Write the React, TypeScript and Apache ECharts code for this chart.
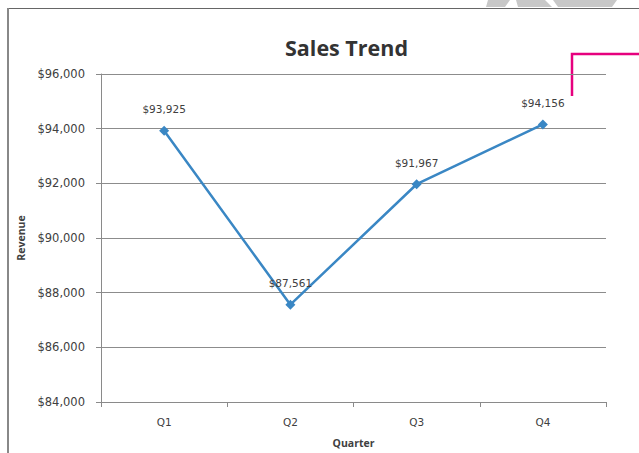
import React, { useEffect, useRef } from "react";
import * as echarts from "echarts";

const categories = ["Q1", "Q2", "Q3", "Q4"];
const revenue = [93925, 87561, 91967, 94156];
const yMin = 84000;
const yMax = 96000;
const yStep = 2000;

const fmt = (v: number) => "$" + v.toLocaleString("en-US");

export default function App() {
  const ref = useRef<HTMLDivElement>(null);
  useEffect(() => {
    document.body.style.margin = "0";
    const chart = echarts.init(ref.current!, null, { renderer: "svg" });
    chart.setOption({
      animation: false,
      backgroundColor: "#ffffff",
      grid: { left: 101, right: 33, top: 74, bottom: 48, containLabel: false },
      xAxis: {
        type: "category",
        data: categories,
        boundaryGap: true,
        name: "Quarter",
        nameLocation: "middle",
        nameGap: 35,
        nameTextStyle: { fontFamily: "Open Sans", fontWeight: "bold", fontSize: 10.5, color: "#404040" },
        axisLine: { show: true, lineStyle: { color: "#8a8a8a", width: 1 } },
        axisTick: { show: true, length: 5, lineStyle: { color: "#8a8a8a" } },
        axisLabel: { fontFamily: "DejaVu Sans", fontSize: 10.5, color: "#404040", margin: 14 },
      },
      yAxis: {
        type: "value",
        min: yMin,
        max: yMax,
        interval: yStep,
        name: "Revenue",
        nameLocation: "middle",
        nameRotate: 90,
        nameGap: 74,
        nameTextStyle: { fontFamily: "Open Sans", fontWeight: "bold", fontSize: 10.5, color: "#404040" },
        axisLine: { show: true, lineStyle: { color: "#8a8a8a", width: 1 } },
        axisTick: { show: true, length: 5, lineStyle: { color: "#8a8a8a" } },
        axisLabel: { fontFamily: "DejaVu Sans", fontSize: 11.5, color: "#404040", margin: 16, formatter: (v: number) => fmt(v) },
        splitLine: { show: true, lineStyle: { color: "#8c8c8c", width: 1 } },
      },
      series: [
        {
          type: "line",
          data: revenue,
          symbol: "diamond",
          symbolSize: 10,
          itemStyle: { color: "#3a87c4" },
          lineStyle: { color: "#3a87c4", width: 2.5 },
          label: {
            show: true,
            position: "top",
            distance: 11,
            fontFamily: "DejaVu Sans",
            fontSize: 10.5,
            color: "#404040",
            formatter: (p: any) => fmt(p.value),
          },
        },
      ],
      graphic: [
        {
          type: "text",
          left: 285,
          top: 36,
          style: { text: "Sales Trend", fontFamily: "Open Sans", fontWeight: "bold", fontSize: 21.5, fill: "#333333" },
        },
        { type: "line", shape: { x1: 8, y1: 8.5, x2: 639, y2: 8.5 }, style: { stroke: "#666666", lineWidth: 1.2 } },
        { type: "line", shape: { x1: 8, y1: 8, x2: 8, y2: 453 }, style: { stroke: "#888888", lineWidth: 2 } },
        { type: "polygon", shape: { points: [[488, 0], [510, 0], [505, 7], [486, 7]] }, style: { fill: "#c8c8c8" } },
        { type: "polygon", shape: { points: [[516, 0], [545, 0], [552, 7], [518, 7]] }, style: { fill: "#c8c8c8" } },
        { type: "polygon", shape: { points: [[553, 0], [617, 0], [612, 7], [558, 7]] }, style: { fill: "#c8c8c8" } },
        {
          type: "polyline",
          shape: { points: [[572, 96], [572, 54], [639, 54]] },
          style: { stroke: "#e6007e", lineWidth: 2.5, fill: "none" },
        },
      ],
    });
    return () => chart.dispose();
  }, []);
  return <div ref={ref} style={{ position: "fixed", left: 0, top: 0, width: 639, height: 453 }} />;
}
